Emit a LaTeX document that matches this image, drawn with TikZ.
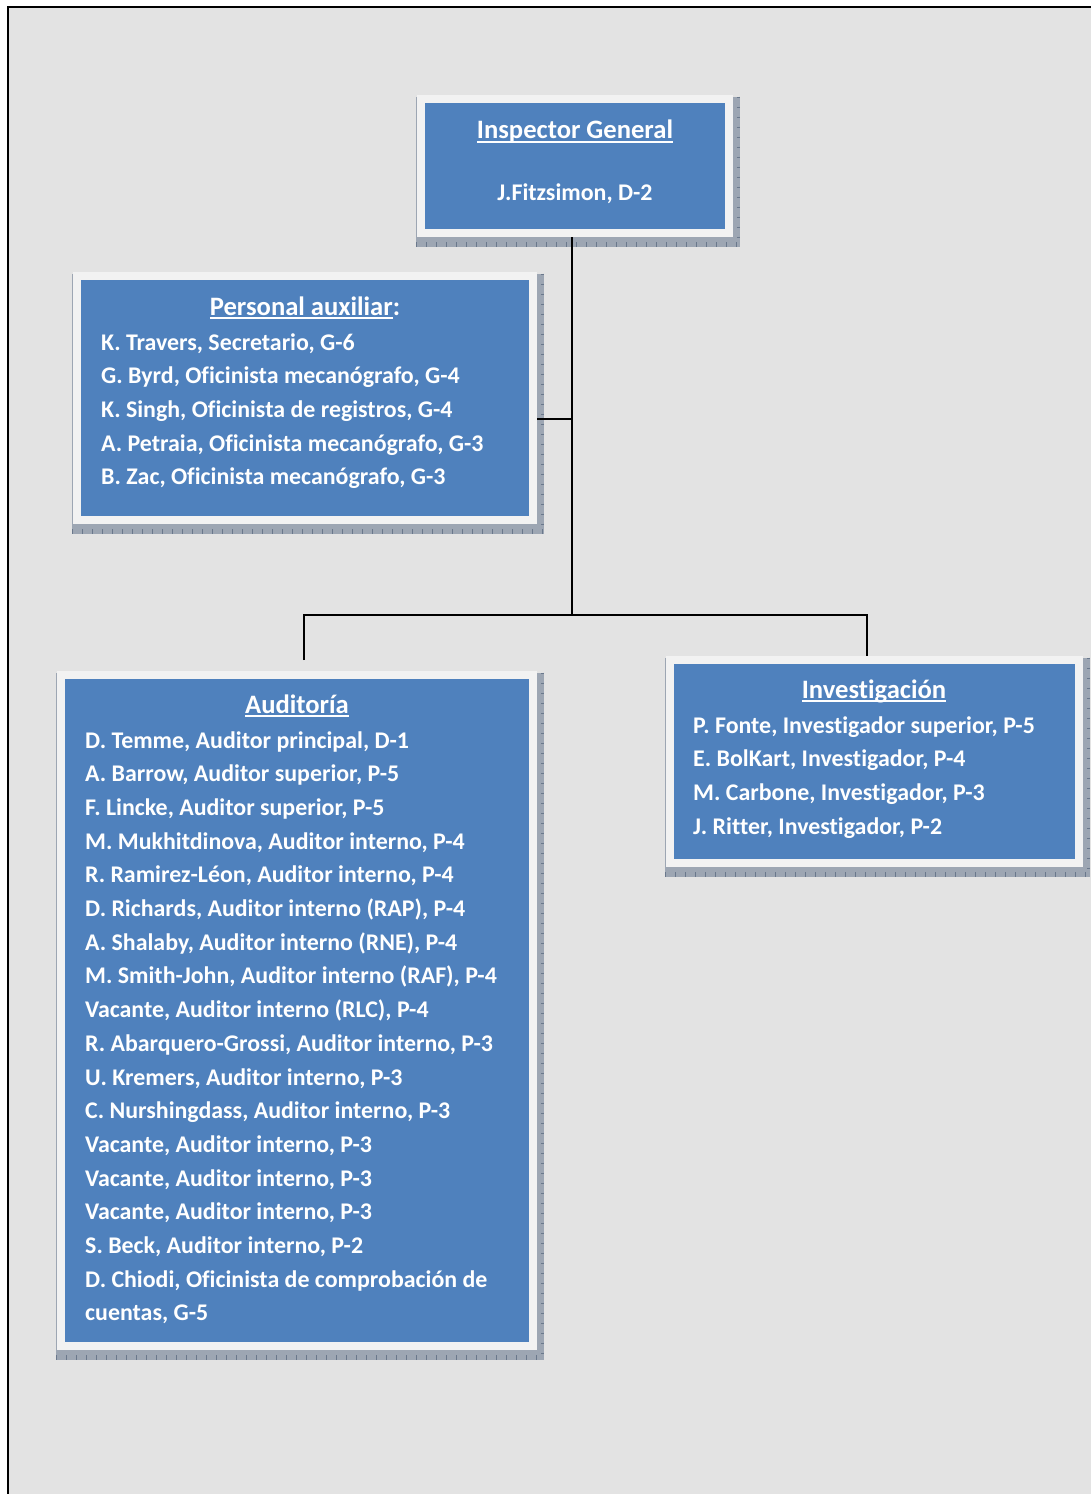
\documentclass[tikz,border=0pt]{standalone}
\usepackage{fontspec}
\setmainfont{Carlito}[Ligatures=NoCommon]
\usetikzlibrary{calc}
\definecolor{bgc}{HTML}{E3E3E3}
\definecolor{boxblue}{HTML}{4F81BD}
\definecolor{framec}{HTML}{F2F2F2}
\definecolor{shadowc}{HTML}{9DA6B3}
\definecolor{tickc}{HTML}{6A788C}
\newcommand{\ulh}[1]{\setbox0\hbox{#1}\rlap{\rule[-4pt]{\wd0}{2pt}}\box0}
\pgfdeclarelayer{bgpage}
\pgfdeclarelayer{bgshadow}
\pgfsetlayers{bgpage,bgshadow,main}
\tikzset{
  orgbox/.style={rectangle, fill=boxblue, draw=framec, line width=8pt, inner sep=0pt},
  item/.style={font=\fontsize{23.9}{27}\selectfont\bfseries, text=white, anchor=base west, inner sep=0pt},
  head/.style={font=\fontsize{26.6}{30}\selectfont\bfseries, text=white, anchor=base, inner sep=0pt},
  subhead/.style={font=\fontsize{23.9}{27}\selectfont\bfseries, text=white, anchor=base, inner sep=0pt},
  conn/.style={draw=black, line width=2pt},
  shadowfill/.style={fill=shadowc},
  ticks/.style={draw=tickc, line width=5pt, dash pattern=on 1pt off 9pt}
}
\begin{document}
\begin{tikzpicture}[x=1pt,y=-1pt]
\useasboundingbox (0,0) rectangle (1091,1494);
% boxes
\node[orgbox, minimum width=308pt, minimum height=134pt] (ig) at (575,166) {};
\node[orgbox, minimum width=456pt, minimum height=244pt] (pers) at (305,398) {};
\node[orgbox, minimum width=472pt, minimum height=671pt] (aud) at (297,1010.5) {};
\node[orgbox, minimum width=409pt, minimum height=203pt] (inv) at (874.5,761.5) {};
% texts
\node[head] (ighead) at (575,138.5) {\ulh{Inspector General}};
\node[subhead] (igname) at (575,200) {J.Fitzsimon, D-2};
\node[head] (pershead) at (305,315) {\ulh{Personal auxiliar}:};
\foreach [count=\i from 0] \t in {{K. Travers, Secretario, G-6},{G. Byrd, Oficinista mecanógrafo, G-4},{K. Singh, Oficinista de registros, G-4},{A. Petraia, Oficinista mecanógrafo, G-3},{B. Zac, Oficinista mecanógrafo, G-3}}
  \node[item] (pers\i) at (101,{350+33.7*\i}) {\t};
\node[head] (audhead) at (297,713) {\ulh{Auditoría}};
\foreach [count=\i from 0] \t in {{D. Temme, Auditor principal, D-1},{A. Barrow, Auditor superior, P-5},{F. Lincke, Auditor superior, P-5},{M. Mukhitdinova, Auditor interno, P-4},{R. Ramirez-Léon, Auditor interno, P-4},{D. Richards, Auditor interno (RAP), P-4},{A. Shalaby, Auditor interno (RNE), P-4},{M. Smith-John, Auditor interno (RAF), P-4},{Vacante, Auditor interno (RLC), P-4},{R. Abarquero-Grossi, Auditor interno, P-3},{U. Kremers, Auditor interno, P-3},{C. Nurshingdass, Auditor interno, P-3},{Vacante, Auditor interno, P-3},{Vacante, Auditor interno, P-3},{Vacante, Auditor interno, P-3},{S. Beck, Auditor interno, P-2},{D. Chiodi, Oficinista de comprobación de},{cuentas, G-5}}
  \node[item] (aud\i) at (85,{748+33.7*\i}) {\t};
\node[head] (invhead) at (874,698) {\ulh{Investigación}};
\foreach [count=\i from 0] \t in {{P. Fonte, Investigador superior, P-5},{E. BolKart, Investigador, P-4},{M. Carbone, Investigador, P-3},{J. Ritter, Investigador, P-2}}
  \node[item] (inv\i) at (693,{733+33.7*\i}) {\t};
% page background
\begin{pgfonlayer}{bgpage}
  \fill[white] (0,0) rectangle (1091,1494);
  \fill[bgc] (8,7) rectangle (1091,1494);
  \draw[black, line width=2pt] (7.5,1494) -- (7.5,6.5) -- (1091,6.5);
\end{pgfonlayer}
% shadows and connectors
\begin{pgfonlayer}{bgshadow}
  \foreach \b in {ig,pers,aud,inv}{
    \fill[shadowfill] ($(\b.north west)+(-1,1.5)$) rectangle ($(\b.south east)+(6.5,9.5)$);
    \draw[ticks] ($(\b.south west)+(-1,7)$) -- ($(\b.south east)+(6.5,7)$);
    \draw[ticks, line width=2.5pt] ($(\b.north east)+(5.25,1.5)$) -- ($(\b.south east)+(5.25,9.5)$);
  }
  \coordinate (j1) at (572,419);
  \coordinate (j2) at (572,615);
  \coordinate (ja) at (304,660);
  \coordinate (ji) at (867,615);
  \draw[conn] (ig.south -| j2) -- (j2);
  \draw[conn] (pers.east |- j1) -- (j1);
  \draw[conn] (ja) |- (ji) -- (inv.north -| ji);
\end{pgfonlayer}
\end{tikzpicture}
\end{document}
